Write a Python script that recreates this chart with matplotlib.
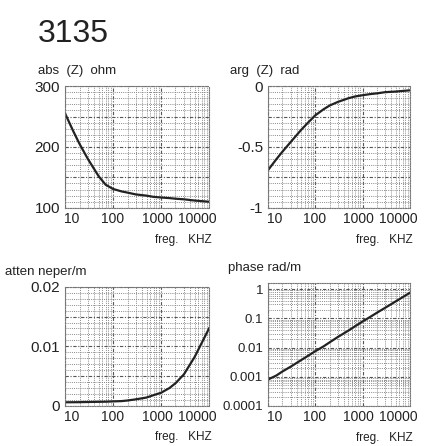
import matplotlib
matplotlib.use('Agg')
import matplotlib.pyplot as plt
from matplotlib.ticker import MultipleLocator, LogLocator, NullFormatter
from matplotlib.transforms import ScaledTranslation

plt.rcParams['font.family'] = ['Liberation Sans', 'DejaVu Sans']

# values (frequency in kHz)
freq = [10, 15, 20, 30, 50, 70, 100, 150, 200, 300, 500, 700, 1000, 1500, 2000, 3000, 5000, 10000]
abs_z = [255, 225, 205, 180, 152, 138, 131, 127, 125, 122, 120, 118, 117, 116, 115, 114, 112, 110]
arg_z = [-0.69, -0.60, -0.54, -0.46, -0.36, -0.30, -0.24, -0.19, -0.16, -0.13, -0.10, -0.085,
         -0.075, -0.065, -0.06, -0.05, -0.045, -0.035]
atten = [0.0006, 0.00061, 0.00062, 0.00065, 0.00068, 0.0007, 0.00075, 0.0008, 0.0009, 0.0011,
         0.0014, 0.0018, 0.0022, 0.0030, 0.0038, 0.0053, 0.0082, 0.0130]
phase = [0.0008, 0.0011, 0.0015, 0.0022, 0.0037, 0.0052, 0.0075, 0.011, 0.015, 0.023, 0.038,
         0.054, 0.078, 0.116, 0.155, 0.23, 0.38, 0.75]

x_ticks = [10, 100, 1000, 10000]
x_labels = ['10', '100', '1000', '10000']
x_label_shift = [7, -1, -4, -12]   # px, the printed labels sit a bit squeezed together

TXT = '#222222'

fig = plt.figure(figsize=(4.31, 4.46), dpi=100)
fig.text(0.088, 0.905, '3135', fontsize=23, color=TXT)


def setup(ax, ylabel, label_x, ysize=11):
    ax.set_xscale('log')
    ax.set_xlim(10, 10000)
    ax.set_xticks(x_ticks)
    ax.set_xticklabels([])
    for v, lab, dx in zip(x_ticks, x_labels, x_label_shift):
        tr = ax.get_xaxis_transform() + ScaledTranslation(dx / 100, -4 / 100, fig.dpi_scale_trans)
        ax.text(v, 0, lab, transform=tr, ha='center', va='top', fontsize=10, color=TXT)
    ax.xaxis.set_minor_locator(LogLocator(base=10, subs=range(2, 10), numticks=20))
    ax.xaxis.set_minor_formatter(NullFormatter())
    ax.tick_params(which='both', length=0, labelsize=ysize, colors=TXT, pad=3.5)
    ax.set_axisbelow(True)
    ax.grid(True, which='major', color='#555555', linestyle=(0, (3, 1.5, 1, 1.5)), linewidth=0.8)
    ax.grid(True, which='minor', color='#8a8a8a', linestyle=(0, (1, 1.2)), linewidth=0.7)
    for s in ax.spines.values():
        s.set_linestyle((0, (1, 1.2)))
        s.set_color('#777777')
        s.set_linewidth(0.8)
    ax.text(label_x, 1.1, ylabel, transform=ax.transAxes, fontsize=9.5, color=TXT, ha='left')
    ax.text(0.82, -0.29, 'freg.   KHZ', transform=ax.transAxes, fontsize=8.5, color=TXT, ha='center')


# abs(Z)
ax1 = fig.add_axes([0.151, 0.534, 0.334, 0.273])
ax1.plot(freq, abs_z, color='#222222', linewidth=1.6)
ax1.set_ylim(100, 300)
ax1.set_yticks([100, 150, 200, 250, 300])
ax1.set_yticklabels(['100', '', '200', '', '300'])
ax1.yaxis.set_minor_locator(MultipleLocator(10))
setup(ax1, 'abs  (Z)  ohm', -0.19)

# arg(Z)
ax2 = fig.add_axes([0.622, 0.534, 0.329, 0.273])
ax2.plot(freq, arg_z, color='#222222', linewidth=1.6)
ax2.set_ylim(-1, 0)
ax2.set_yticks([-1, -0.75, -0.5, -0.25, 0])
ax2.set_yticklabels(['-1', '', '-0.5', '', '0'])
ax2.yaxis.set_minor_locator(MultipleLocator(0.05))
setup(ax2, 'arg  (Z)  rad', -0.27)

# attenuation
ax3 = fig.add_axes([0.151, 0.090, 0.334, 0.267])
ax3.plot(freq, atten, color='#222222', linewidth=1.6)
ax3.set_ylim(0, 0.02)
ax3.set_yticks([0, 0.005, 0.01, 0.015, 0.02])
ax3.set_yticklabels(['0', '', '0.01', '', '0.02'])
ax3.yaxis.set_minor_locator(MultipleLocator(0.001))
setup(ax3, 'atten neper/m', -0.42)

# phase
ax4 = fig.add_axes([0.622, 0.090, 0.329, 0.275])
ax4.plot(freq, phase, color='#222222', linewidth=1.6)
ax4.set_yscale('log')
ax4.set_ylim(1e-4, 1.6)
ax4.set_yticks([1e-4, 1e-3, 1e-2, 1e-1, 1])
ax4.set_yticklabels(['0.0001', '0.001', '0.01', '0.1', '1'])
ax4.yaxis.set_minor_locator(LogLocator(base=10, subs=range(2, 10), numticks=20))
ax4.yaxis.set_minor_formatter(NullFormatter())
setup(ax4, 'phase rad/m', -0.28, ysize=9.5)

fig.savefig('out.png', dpi=100)
